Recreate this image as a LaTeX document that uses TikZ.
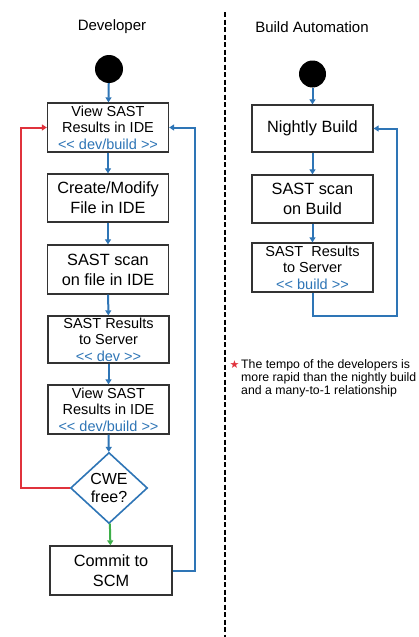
\documentclass[tikz,border=0pt]{standalone}
\usepackage{fontspec}
\setmainfont{Liberation Sans}
\newfontfamily\symfont{DejaVu Sans}
\usetikzlibrary{arrows.meta,shapes.geometric}
\definecolor{flowblue}{HTML}{2E75B6}
\definecolor{loopred}{HTML}{E0323C}
\definecolor{passgreen}{HTML}{3DAE49}
\definecolor{boxline}{HTML}{333333}
\tikzset{
  stepbox/.style={draw=boxline, line width=1.3pt, fill=white, minimum width=121pt,
    minimum height=48pt, inner sep=0pt, align=center, font=\fontsize{16.3}{20}\selectfont},
  smallbox/.style={stepbox, font=\fontsize{14.5}{16.5}\selectfont},
  flow/.style={draw=flowblue, line width=2pt, -{Triangle[length=5pt,width=6pt]}},
  redflow/.style={flow, draw=loopred, -{Triangle[length=5pt,width=6pt,fill=loopred]}},
  greenflow/.style={flow, draw=passgreen, -{Triangle[length=5pt,width=6pt,fill=passgreen]}},
  startdot/.style={circle, fill=black, inner sep=0pt},
  title/.style={font=\fontsize{15}{18}\selectfont},
}
\begin{document}
\begin{tikzpicture}[x=1pt,y=-1pt]
\useasboundingbox (0,0) rectangle (418,637);

% lane separator
\draw[line width=2.2pt, dash pattern=on 5pt off 2.5pt] (225,12) -- (225,637);

% lane titles
\node[title] (devtitle) at (112,27) {Developer};
\node[title] (buildtitle) at (312,27) {Build Automation};

% developer lane
\node[startdot, minimum size=28pt] (dstart) at (109,69) {};
\node[smallbox, minimum height=49pt] (view1) at (108,127.5)
  {View SAST\\Results in IDE\\\textcolor{flowblue}{<{}< dev/build >{}>}};
\node[stepbox] (create) at (108,198) {Create/Modify\\File in IDE};
\node[stepbox, minimum height=49pt] (scan) at (108,269.5) {SAST scan\\on file in IDE};
\node[smallbox, minimum height=47pt] (toserver) at (108.5,339.5)
  {SAST Results\\to Server\\\textcolor{flowblue}{<{}< dev >{}>}};
\node[smallbox, minimum height=49pt] (view2) at (108.5,409.5)
  {View SAST\\Results in IDE\\\textcolor{flowblue}{<{}< dev/build >{}>}};
\node[diamond, draw=flowblue, line width=1.6pt, fill=white, inner sep=0pt,
  minimum width=77pt, minimum height=71pt, align=center,
  font=\fontsize{16}{18}\selectfont] (cwe) at (109,488) {CWE\\free?};
\node[stepbox, minimum width=122pt, minimum height=49pt] (commit) at (111,570.5) {Commit to\\SCM};

\draw[flow] (dstart) -- (view1);
\draw[flow] (view1) -- (create);
\draw[flow] (create) -- (scan);
\draw[flow] (scan) -- (toserver);
\draw[flow] (toserver) -- (view2);
\draw[flow] (view2) -- (cwe);
\draw[greenflow] (cwe) -- (commit);

\coordinate (redcorner) at (21,488);
\draw[redflow] (cwe.west) -- (redcorner) |- (view1.west);
\coordinate (bluecorner) at (195,570.5);
\draw[flow] (commit.east) -- (bluecorner) |- (view1.east);

% build automation lane
\node[startdot, minimum size=27pt] (bstart) at (312.5,74) {};
\node[stepbox, minimum width=121pt, minimum height=47pt] (nightly) at (312.5,128.5) {Nightly Build};
\node[stepbox, minimum width=121pt] (bscan) at (312.5,199) {SAST scan\\on Build};
\node[smallbox, minimum width=121pt, minimum height=49pt] (bserver) at (312.5,267.5)
  {SAST\ \ Results\\to Server\\\textcolor{flowblue}{<{}< build >{}>}};

\draw[flow] (bstart) -- (nightly);
\draw[flow] (nightly) -- (bscan);
\draw[flow] (bscan) -- (bserver);
\coordinate (buildcorner) at (397,316);
\draw[flow] (bserver.south) |- (buildcorner) |- (nightly.east);

% footnote
\node[text=loopred, font=\symfont\fontsize{11}{11}\selectfont, inner sep=0pt] (star) at (234.5,365) {★};
\node[anchor=north west, align=left, inner sep=0pt,
  font=\fontsize{12.3}{13}\selectfont] (note) at (241,359.5)
  {The tempo of the developers is\\more rapid than the nightly build\\and a many-to-1 relationship};
\end{tikzpicture}
\end{document}
